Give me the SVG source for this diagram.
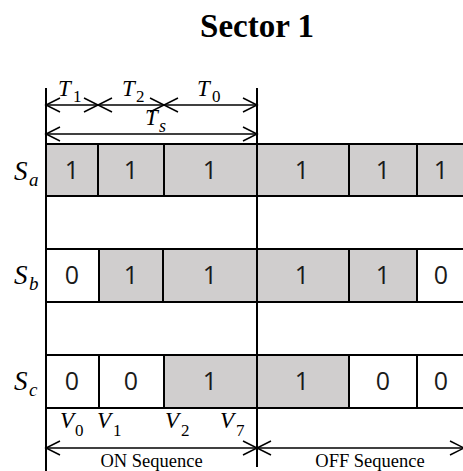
<svg xmlns="http://www.w3.org/2000/svg" width="463" height="471" viewBox="0 0 463 471">
<style>
.cell{stroke:#000;stroke-width:2}
.on{fill:#d0cece}
.off{fill:#fff}
.dig{font-family:"Open Sans","Noto Sans",sans-serif;font-size:25px;text-anchor:middle;fill:#1a1a1a}
.mi{font-family:"Liberation Serif",serif;font-style:italic;fill:#000}
.sub{font-family:"Liberation Serif",serif;fill:#000}
.seq{font-family:"Liberation Serif",serif;font-size:18.5px;text-anchor:middle;fill:#000}
.dim{stroke:#000;stroke-width:1.5;fill:none;marker-start:url(#ah);marker-end:url(#ah)}
.vl{stroke:#000;stroke-width:2}
</style>
<defs>
<marker id="ah" markerUnits="userSpaceOnUse" viewBox="-16 -9 18 18" markerWidth="18" markerHeight="18" refX="0" refY="0" orient="auto-start-reverse" overflow="visible">
<path d="M-14,-7 L0,0 L-14,7" fill="none" stroke="#000" stroke-width="1.5"/>
</marker>
</defs>
<rect width="463" height="471" fill="#fff"/>
<g id="title"><text x="257" y="37" font-family="Liberation Serif, serif" font-weight="bold" font-size="33" text-anchor="middle">Sector 1</text></g>

<g id="row-Sa">
<rect class="cell on" x="46" y="144" width="52" height="52"/>
<rect class="cell on" x="98" y="144" width="66" height="52"/>
<rect class="cell on" x="164" y="144" width="93" height="52"/>
<rect class="cell on" x="257" y="144" width="92" height="52"/>
<rect class="cell on" x="349" y="144" width="68" height="52"/>
<rect class="cell on" x="417" y="144" width="60" height="52"/>
<text class="dig" x="72" y="179">1</text>
<text class="dig" x="131" y="179">1</text>
<text class="dig" x="210" y="179">1</text>
<text class="dig" x="302" y="179">1</text>
<text class="dig" x="383" y="179">1</text>
<text class="dig" x="441" y="179">1</text>
<text class="mi" x="14" y="180" font-size="27">S</text><text class="mi" x="29" y="185.5" font-size="19">a</text>
</g>

<g id="row-Sb">
<rect class="cell off" x="46" y="249" width="53" height="53"/>
<rect class="cell on" x="99" y="249" width="64" height="53"/>
<rect class="cell on" x="163" y="249" width="94" height="53"/>
<rect class="cell on" x="257" y="249" width="92" height="53"/>
<rect class="cell on" x="349" y="249" width="68" height="53"/>
<rect class="cell off" x="417" y="249" width="60" height="53"/>
<text class="dig" x="72" y="284">0</text>
<text class="dig" x="131" y="284">1</text>
<text class="dig" x="210" y="284">1</text>
<text class="dig" x="302" y="284">1</text>
<text class="dig" x="383" y="284">1</text>
<text class="dig" x="441" y="284">0</text>
<text class="mi" x="14" y="284" font-size="27">S</text><text class="mi" x="29" y="290" font-size="19">b</text>
</g>

<g id="row-Sc">
<rect class="cell off" x="46" y="355" width="53" height="53"/>
<rect class="cell off" x="99" y="355" width="65" height="53"/>
<rect class="cell on" x="164" y="355" width="93" height="53"/>
<rect class="cell on" x="257" y="355" width="92" height="53"/>
<rect class="cell off" x="349" y="355" width="68" height="53"/>
<rect class="cell off" x="417" y="355" width="60" height="53"/>
<text class="dig" x="72" y="390">0</text>
<text class="dig" x="131" y="390">0</text>
<text class="dig" x="210" y="390">1</text>
<text class="dig" x="302" y="390">1</text>
<text class="dig" x="383" y="390">0</text>
<text class="dig" x="441" y="390">0</text>
<text class="mi" x="14" y="390" font-size="27">S</text><text class="mi" x="29" y="396" font-size="19">c</text>
</g>

<g id="connectors">
<line class="vl" x1="46" y1="88" x2="46" y2="471"/>
<line class="vl" x1="257" y1="88" x2="257" y2="467"/>
<line class="dim" x1="46" y1="105" x2="98" y2="105"/>
<line class="dim" x1="98" y1="105" x2="164" y2="105"/>
<line class="dim" x1="164" y1="105" x2="257" y2="105"/>
<line class="dim" x1="46" y1="134" x2="257" y2="134"/>
<line class="dim" x1="46" y1="448" x2="257" y2="448"/>
<line class="dim" x1="257" y1="448" x2="464" y2="448"/>
</g>

<g id="time-labels">
<text class="mi" x="58" y="96" font-size="23">T</text><text class="sub" x="73" y="102" font-size="17">1</text>
<text class="mi" x="122" y="96" font-size="23">T</text><text class="sub" x="136" y="102" font-size="17">2</text>
<text class="mi" x="197" y="96" font-size="23">T</text><text class="sub" x="212" y="102" font-size="17">0</text>
<text class="mi" x="145" y="125" font-size="23">T</text><text class="mi" x="159" y="132" font-size="18">s</text>
</g>

<g id="vector-labels">
<text class="mi" x="60" y="428" font-size="23">V</text><text class="sub" x="75" y="436" font-size="17">0</text>
<text class="mi" x="97" y="428" font-size="23">V</text><text class="sub" x="113" y="436" font-size="17">1</text>
<text class="mi" x="165" y="428" font-size="23">V</text><text class="sub" x="181" y="436" font-size="17">2</text>
<text class="mi" x="220" y="428" font-size="23">V</text><text class="sub" x="236" y="436" font-size="17">7</text>
</g>

<g id="sequence-labels">
<text class="seq" x="151.5" y="467">ON Sequence</text>
<text class="seq" x="370" y="467">OFF Sequence</text>
</g>
</svg>
